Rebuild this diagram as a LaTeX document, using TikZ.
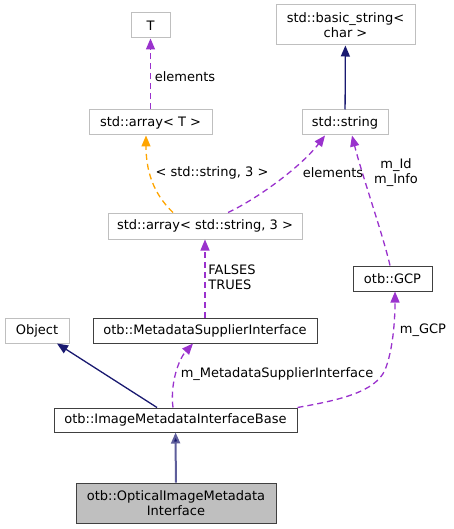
\documentclass[tikz,border=0pt]{standalone}
\usepackage{fontspec}
\setmainfont{DejaVu Sans}
\usetikzlibrary{arrows.meta}

\definecolor{edgepurple}{HTML}{9A32CD}
\definecolor{edgeorange}{HTML}{FFA500}
\definecolor{edgenavy}{HTML}{191970}
\definecolor{boxgray}{HTML}{BFBFBF}
\definecolor{boxdark}{HTML}{404040}

\tikzset{
  cls/.style={draw=boxdark, line width=1pt, fill=white, inner sep=0pt, align=center,
    font=\fontsize{13}{15}\selectfont},
  ext/.style={cls, draw=boxgray},
  lbl/.style={inner sep=0pt, align=center, font=\fontsize{13}{15}\selectfont},
  usage/.style={draw=edgepurple, line width=1.3pt, dash pattern=on 6pt off 4pt,
    -{Triangle[length=11pt,width=9pt,fill=edgepurple]}},
  tmpl/.style={draw=edgeorange, line width=1.3pt, dash pattern=on 6pt off 4pt,
    -{Triangle[length=11pt,width=9pt,fill=edgeorange]}},
  inh/.style={draw=edgenavy, line width=1.3pt, -{Triangle[length=11pt,width=9pt,fill=edgenavy]}},
}

\begin{document}
\begin{tikzpicture}[x=1pt, y=-1pt]
  \useasboundingbox (0,0) rectangle (453,529);
  % classes
  \node[ext, minimum width=39, minimum height=25] (T) at (150.5,25.5) {T};
  \node[ext, minimum width=139, minimum height=40] (bstr) at (345.5,25) {std::basic\_string<\\char >};
  \node[ext, minimum width=123, minimum height=25] (arrT) at (150.5,122.5) {std::array< T >};
  \node[ext, minimum width=86, minimum height=25] (str) at (345,122.5) {std::string};
  \node[ext, minimum width=194, minimum height=26] (arrS) at (205,226) {std::array< std::string, 3 >};
  \node[cls, minimum width=79, minimum height=25] (gcp) at (392.5,278.5) {otb::GCP};
  \node[ext, minimum width=64, minimum height=25] (obj) at (37,330.5) {Object};
  \node[cls, minimum width=224, minimum height=25] (msi) at (205,330.5) {otb::MetadataSupplierInterface};
  \node[cls, minimum width=243, minimum height=24] (imib) at (175.5,420) {otb::ImageMetadataInterfaceBase};
  \node[cls, fill=boxgray, minimum width=200, minimum height=40] (opt) at (176,503) {otb::OpticalImageMetadata\\Interface};

  % edges
  \draw[usage] (arrT) -- (T);
  \draw[inh] (str) -- (bstr);
  \draw[tmpl] ([xshift=-32pt]arrS.north) .. controls (158,198) and (146,178) .. ([xshift=-4.5pt]arrT.south);
  \draw[usage] ([xshift=23pt]arrS.north) .. controls (255,200) and (300,168) .. ([xshift=-20pt]str.south);
  \draw[usage] ([xshift=-2.5pt]gcp.north) .. controls (383,235) and (362,175) .. ([xshift=7pt]str.south);
  \draw[usage] (msi) -- (arrS);
  \draw[inh] ([xshift=-18.5pt]imib.north) -- ([xshift=20pt]obj.south);
  \draw[usage] ([xshift=-2.5pt]imib.north) .. controls (170,385) and (178,360) .. ([xshift=-12pt]msi.south);
  \draw[usage] (imib.north east) .. controls (340,400) and (375,392) .. (385,370) .. controls (393,350) and (395,320) .. ([xshift=2.5pt]gcp.south);
  \draw[inh, line width=2pt, draw=edgenavy!70] (opt) -- (imib);

  % labels
  \node[lbl] (lelemT) at (185,77) {elements};
  \node[lbl] (ltmpl) at (212,173) {< std::string, 3 >};
  \node[lbl] (lelemS) at (333,173) {elements};
  \node[lbl] (lid) at (396,173) {m\_Id\\m\_Info};
  \node[lbl, align=left] (lbool) at (232,277) {FALSES\\TRUES};
  \node[lbl] (lmsi) at (277,374) {m\_MetadataSupplierInterface};
  \node[lbl] (lgcp) at (423,330) {m\_GCP};
\end{tikzpicture}
\end{document}
